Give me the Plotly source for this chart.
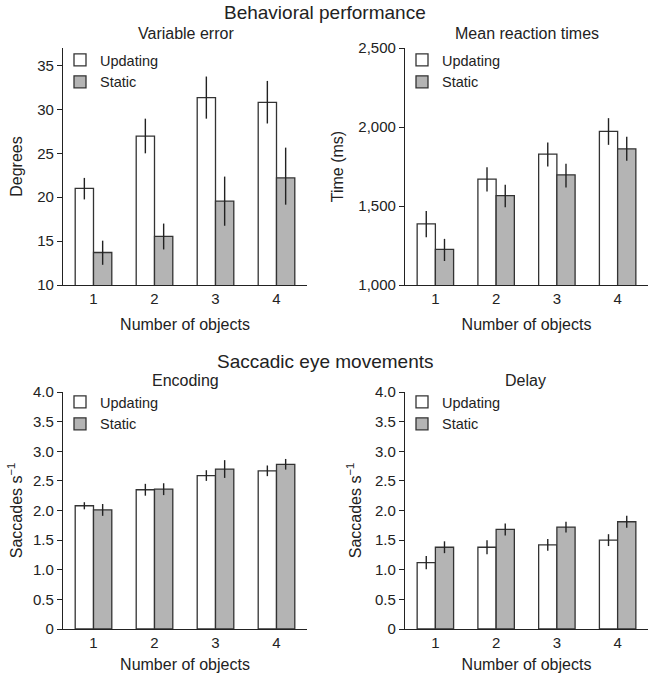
import plotly.graph_objects as go

categories = [1, 2, 3, 4]
series_names = ["Updating", "Static"]

# Variable error (degrees)
ve_upd = [21.0, 26.95, 31.35, 30.8]
ve_upd_err_hi = [1.2, 2.0, 2.4, 2.45]
ve_upd_err_lo = [1.25, 1.95, 2.4, 2.4]
ve_sta = [13.7, 15.55, 19.55, 22.2]
ve_sta_err_hi = [1.35, 1.45, 2.8, 3.45]
ve_sta_err_lo = [1.4, 1.5, 2.8, 3.05]

# Mean reaction times (ms)
rt_upd = [1387, 1670, 1828, 1972]
rt_upd_err_hi = [82, 76, 74, 84]
rt_upd_err_lo = [85, 78, 78, 85]
rt_sta = [1226, 1566, 1697, 1862]
rt_sta_err_hi = [66, 68, 70, 76]
rt_sta_err_lo = [74, 74, 80, 76]

# Encoding saccade rate
enc_upd = [2.08, 2.35, 2.59, 2.67]
enc_upd_err = [0.06, 0.1, 0.09, 0.09]
enc_sta = [2.01, 2.36, 2.70, 2.78]
enc_sta_err = [0.1, 0.1, 0.15, 0.09]

# Delay saccade rate
del_upd = [1.12, 1.38, 1.42, 1.50]
del_upd_err = [0.11, 0.12, 0.1, 0.1]
del_sta = [1.38, 1.68, 1.72, 1.81]
del_sta_err = [0.1, 0.1, 0.09, 0.1]

xtick_labels = ["1", "2", "3", "4"]
sacc_tickvals = [0, 0.5, 1.0, 1.5, 2.0, 2.5, 3.0, 3.5, 4.0]
sacc_ticktext = ["0", "0.5", "1.0", "1.5", "2.0", "2.5", "3.0", "3.5", "4.0"]

FONT = "Liberation Sans, Arial, sans-serif"
INK = "#222222"
COLORS = {"Updating": "#ffffff", "Static": "#b4b4b4"}

W, H = 650, 673
def px_x(a, b):
    return [a / W, b / W]
def px_y(top, bottom):
    return [(H - bottom) / H, (H - top) / H]

fig = go.Figure()

panels = [
    dict(xa="x", ya="y", leg="legend", data=[(ve_upd, ve_upd_err_hi, ve_upd_err_lo), (ve_sta, ve_sta_err_hi, ve_sta_err_lo)]),
    dict(xa="x2", ya="y2", leg="legend2", data=[(rt_upd, rt_upd_err_hi, rt_upd_err_lo), (rt_sta, rt_sta_err_hi, rt_sta_err_lo)]),
    dict(xa="x3", ya="y3", leg="legend3", data=[(enc_upd, enc_upd_err, enc_upd_err), (enc_sta, enc_sta_err, enc_sta_err)]),
    dict(xa="x4", ya="y4", leg="legend4", data=[(del_upd, del_upd_err, del_upd_err), (del_sta, del_sta_err, del_sta_err)]),
]

for p in panels:
    for name, (vals, hi, lo) in zip(series_names, p["data"]):
        fig.add_trace(go.Bar(
            x=categories, y=vals, name=name,
            xaxis=p["xa"], yaxis=p["ya"], legend=p["leg"],
            marker=dict(color=COLORS[name], line=dict(color="#333333", width=1.3)),
            error_y=dict(type="data", symmetric=False, array=hi, arrayminus=lo,
                         width=0, thickness=1.4, color="#222222"),
        ))

xl = px_x(63, 307)
xr = px_x(405, 648)
yt = px_y(48, 285)
yb = px_y(392, 629)

common_x = dict(range=[0.5, 4.5], tickvals=categories, ticktext=xtick_labels,
                showline=True, linecolor="#222222", linewidth=1.3, ticks="",
                showgrid=False, zeroline=False, automargin=False,
                tickfont=dict(size=15, color=INK, family=FONT),
                title=dict(text="Number of objects", font=dict(size=16, color=INK, family=FONT), standoff=12))
common_y = dict(showline=True, linecolor="#222222", linewidth=1.3, ticks="outside",
                ticklen=5, tickwidth=1.2, tickcolor="#222222",
                showgrid=False, zeroline=False, automargin=False,
                tickfont=dict(size=15, color=INK, family=FONT))

def ytitle(t, s=6):
    return dict(text=t, font=dict(size=16, color=INK, family=FONT), standoff=s)

fig.update_layout(
    width=W, height=H,
    margin=dict(l=0, r=0, t=0, b=0),
    paper_bgcolor="white", plot_bgcolor="white",
    barmode="group", bargap=0.4, bargroupgap=0,
    font=dict(family=FONT, color=INK, size=15),
    xaxis=dict(domain=xl, anchor="y", **common_x),
    yaxis=dict(domain=yt, anchor="x", range=[10, 37], tickvals=[10, 15, 20, 25, 30, 35],
               title=ytitle("Degrees", 10), **common_y),
    xaxis2=dict(domain=xr, anchor="y2", **common_x),
    yaxis2=dict(domain=yt, anchor="x2", range=[1000, 2500], tickvals=[1000, 1500, 2000, 2500],
                tickformat=",", title=ytitle("Time (ms)", 10), **common_y),
    xaxis3=dict(domain=xl, anchor="y3", **common_x),
    yaxis3=dict(domain=yb, anchor="x3", range=[0, 4], tickvals=sacc_tickvals, ticktext=sacc_ticktext,
                title=ytitle("Saccades s<sup>−1</sup>", 6), **common_y),
    xaxis4=dict(domain=xr, anchor="y4", **common_x),
    yaxis4=dict(domain=yb, anchor="x4", range=[0, 4], tickvals=sacc_tickvals, ticktext=sacc_ticktext,
                title=ytitle("Saccades s<sup>−1</sup>", 9), **common_y),
)

def legend_at(xpx, ypx):
    return dict(x=xpx / W, y=(H - ypx) / H, xanchor="left", yanchor="top",
                bgcolor="rgba(0,0,0,0)", font=dict(size=14.5, color=INK, family=FONT),
                tracegroupgap=0, itemwidth=30)

fig.update_layout(
    legend=legend_at(60, 44),
    legend2=legend_at(402, 44),
    legend3=legend_at(60, 386),
    legend4=legend_at(402, 386),
)

annots = [
    ("Behavioral performance", 325, 12, 19),
    ("Variable error", 186, 33, 16),
    ("Mean reaction times", 527, 33, 16),
    ("Saccadic eye movements", 325, 361, 19),
    ("Encoding", 185, 380, 16),
    ("Delay", 525, 380, 16),
]
for text, xp, yp, fs in annots:
    fig.add_annotation(text=text, x=xp / W, y=(H - yp) / H, xref="paper", yref="paper",
                       xanchor="center", yanchor="middle", showarrow=False,
                       font=dict(size=fs, color=INK, family=FONT))

fig.write_html("out.html", config={"displayModeBar": False},
               post_script="document.body.style.margin='0px';document.body.style.overflow='hidden';")
